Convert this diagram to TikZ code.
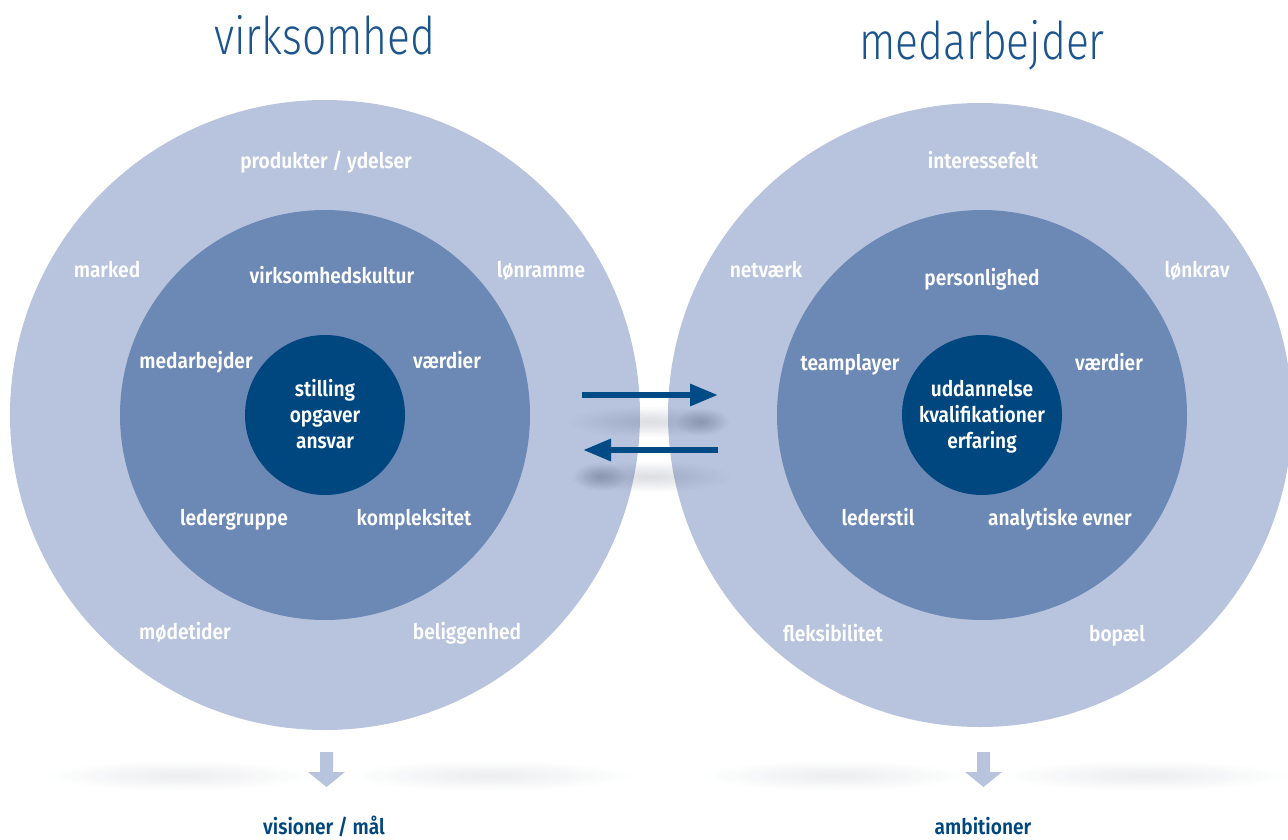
\documentclass[tikz,border=0pt]{standalone}
\usepackage{fontspec}
\setmainfont{Fira Sans}
\newfontfamily\labelfont{Fira Sans SemiBold}[FakeStretch=0.89]
\newfontfamily\titlefont{Fira Sans Light}[FakeStretch=0.82]
\usetikzlibrary{arrows.meta}
\definecolor{ringout}{HTML}{B8C4DD}
\definecolor{ringmid}{HTML}{6C88B4}
\definecolor{core}{HTML}{00467F}
\definecolor{arrowblue}{HTML}{004A86}
\definecolor{titleblue}{HTML}{1C548C}
\definecolor{shadowink}{HTML}{3C4660}
\definecolor{pale}{HTML}{B8C4DD}

% soft blurred spot: x, y, x radius, y radius, opacity per layer
\newcommand\softspot[5]{%
  \foreach \k in {1,...,12}{%
    \fill[shadowink,opacity=#5] (#1,#2) ellipse[x radius={#3*\k/12}, y radius={#4*\k/12}];}}

\begin{document}
\begin{tikzpicture}[x=1pt,y=-1pt,
  ring/.style={circle,inner sep=0pt,outer sep=0pt},
  lbl/.style={text=white,font=\labelfont\fontsize{21.5}{26}\selectfont,align=center,inner sep=0pt,anchor=base},
  corelbl/.style={text=white,font=\labelfont\fontsize{21.5}{26}\selectfont,align=center,inner sep=0pt},
  heading/.style={text=titleblue,font=\titlefont\fontsize{52}{56}\selectfont,inner sep=0pt,anchor=base},
  goal/.style={text=core,font=\labelfont\fontsize{21.5}{26}\selectfont,inner sep=0pt,anchor=base},
  flow/.style={arrowblue,line width=6pt,-{Triangle[length=28pt,width=21pt]}},
  down/.style={fill=pale,draw=none}]
\useasboundingbox (0,0) rectangle (1288,840);
\clip (0,0) rectangle (1288,840);

% company side rings
\node[ring,fill=ringout,minimum size=630pt] (Lout) at (325,415) {};
\node[ring,fill=ringmid,minimum size=410pt] (Lmid) at (325,415) {};
\node[ring,fill=core,minimum size=160pt]    (Lcore) at (325,415) {};

% employee side rings
\node[ring,fill=ringout,minimum size=624pt] (Rout) at (980,415) {};
\node[ring,fill=ringmid,minimum size=410pt] (Rmid) at (982,415) {};
\node[ring,fill=core,minimum size=160pt]    (Rcore) at (982,415) {};

% shadows under the exchange arrows
\softspot{650}{422}{80}{15}{0.015}
\softspot{702}{422}{26}{14}{0.025}
\softspot{650}{477}{80}{15}{0.015}
\softspot{600}{477}{26}{14}{0.025}

% exchange arrows
\coordinate (toR0) at (582,395);
\coordinate (toR1) at (718,395);
\coordinate (toL0) at (718,450);
\coordinate (toL1) at (583,450);
\draw[flow] (toR0) -- (toR1);
\draw[flow] (toL0) -- (toL1);

% headings
\node[heading] (hL) at (325,55) {virksomhed};
\node[heading] (hR) at (982,60) {medarbejder};

% company labels
\node[lbl] (l1) at (326,168) {produkter / ydelser};
\node[lbl] (l2) at (107,277) {marked};
\node[lbl] (l3) at (541,277) {lønramme};
\node[lbl] (l4) at (332,283) {virksomhedskultur};
\node[lbl] (l5) at (196,368) {medarbejder};
\node[lbl] (l6) at (447,368) {værdier};
\node[corelbl] (l7) at (325,414) {stilling\\opgaver\\ansvar};
\node[lbl] (l8) at (234,525) {ledergruppe};
\node[lbl] (l9) at (414,525) {kompleksitet};
\node[lbl] (l10) at (185,639) {mødetider};
\node[lbl] (l11) at (467,639) {beliggenhed};

% employee labels
\node[lbl] (r1) at (983,168) {interessefelt};
\node[lbl] (r2) at (766,277) {netværk};
\node[lbl] (r3) at (1197,277) {lønkrav};
\node[lbl] (r4) at (982,285) {personlighed};
\node[lbl] (r5) at (850,370) {teamplayer};
\node[lbl] (r6) at (1109,370) {værdier};
\node[corelbl] (r7) at (982,417) {uddannelse\\kvalifikationer\\erfaring};
\node[lbl] (r8) at (878,525) {lederstil};
\node[lbl] (r9) at (1060,525) {analytiske evner};
\node[lbl] (r10) at (833,641) {fleksibilitet};
\node[lbl] (r11) at (1117,641) {bopæl};

% ground shadows below the rings
\softspot{180}{776}{130}{15}{0.009}
\softspot{490}{776}{140}{15}{0.009}
\softspot{835}{776}{130}{15}{0.009}
\softspot{1145}{776}{140}{15}{0.009}

% outcome arrows
\fill[down] (320,752) -- (333,752) -- (333,772) -- (345,772) -- (326.5,787)
  -- (308,772) -- (320,772) -- cycle;
\fill[down] (977,752) -- (990,752) -- (990,772) -- (1002,772) -- (983.5,787)
  -- (965,772) -- (977,772) -- cycle;

% outcomes
\node[goal] (gL) at (324,834) {visioner / mål};
\node[goal] (gR) at (983,834) {ambitioner};
\end{tikzpicture}
\end{document}
